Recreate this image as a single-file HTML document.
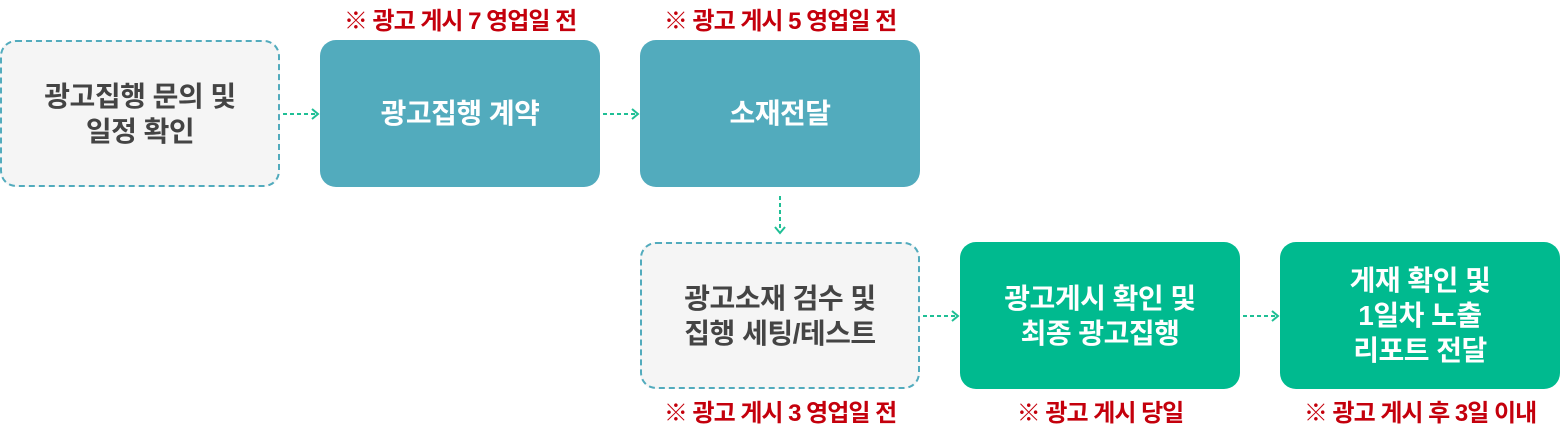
<!DOCTYPE html>
<html><head><meta charset="utf-8"><style>
body{margin:0;width:1560px;height:430px;background:#fff;position:relative;overflow:hidden;font-family:"Liberation Sans","Noto Sans CJK KR",sans-serif;}
.b{position:absolute;width:280px;height:147px;border-radius:16px;display:flex;align-items:center;justify-content:center;text-align:center;font-weight:bold;font-size:28px;line-height:35px;color:#fff;box-sizing:border-box;letter-spacing:-0.5px;}
.g{background:#f5f5f5;color:#444;border:2px dashed #52abbd;}
.t{background:#52abbd;}
.n{background:#00ba8f;}
.r{position:absolute;width:280px;text-align:center;color:#c4000c;font-weight:bold;font-size:24px;line-height:26px;letter-spacing:-1px;}
svg{position:absolute;left:0;top:0;}
</style></head><body>
<div class="b g" style="left:0;top:40px">광고집행 문의 및<br>일정 확인</div>
<div class="b t" style="left:320px;top:40px">광고집행 계약</div>
<div class="b t" style="left:640px;top:40px">소재전달</div>
<div class="b g" style="left:640px;top:242px">광고소재 검수 및<br>집행 세팅/테스트</div>
<div class="b n" style="left:960px;top:242px">광고게시 확인 및<br>최종 광고집행</div>
<div class="b n" style="left:1280px;top:242px">게재 확인 및<br>1일차 노출<br>리포트 전달</div>
<div class="r" style="left:320px;top:9px">※ 광고 게시 7 영업일 전</div>
<div class="r" style="left:640px;top:9px">※ 광고 게시 5 영업일 전</div>
<div class="r" style="left:640px;top:401px">※ 광고 게시 3 영업일 전</div>
<div class="r" style="left:960px;top:401px">※ 광고 게시 당일</div>
<div class="r" style="left:1280px;top:401px">※ 광고 게시 후 3일 이내</div>
<svg width="1560" height="430" fill="none" stroke="#1fbf95" stroke-width="2">
<g stroke-dasharray="4 3">
<line x1="283" y1="114" x2="316" y2="114"/>
<line x1="603" y1="114" x2="636" y2="114"/>
<line x1="923" y1="316" x2="956" y2="316"/>
<line x1="1243" y1="316" x2="1276" y2="316"/>
<line x1="780" y1="196" x2="780" y2="230"/>
</g>
<polyline points="312,109 318,114 312,119"/>
<polyline points="632,109 638,114 632,119"/>
<polyline points="952,311 958,316 952,321"/>
<polyline points="1272,311 1278,316 1272,321"/>
<polyline points="775,227 780,233 785,227"/>
</svg>
</body></html>
